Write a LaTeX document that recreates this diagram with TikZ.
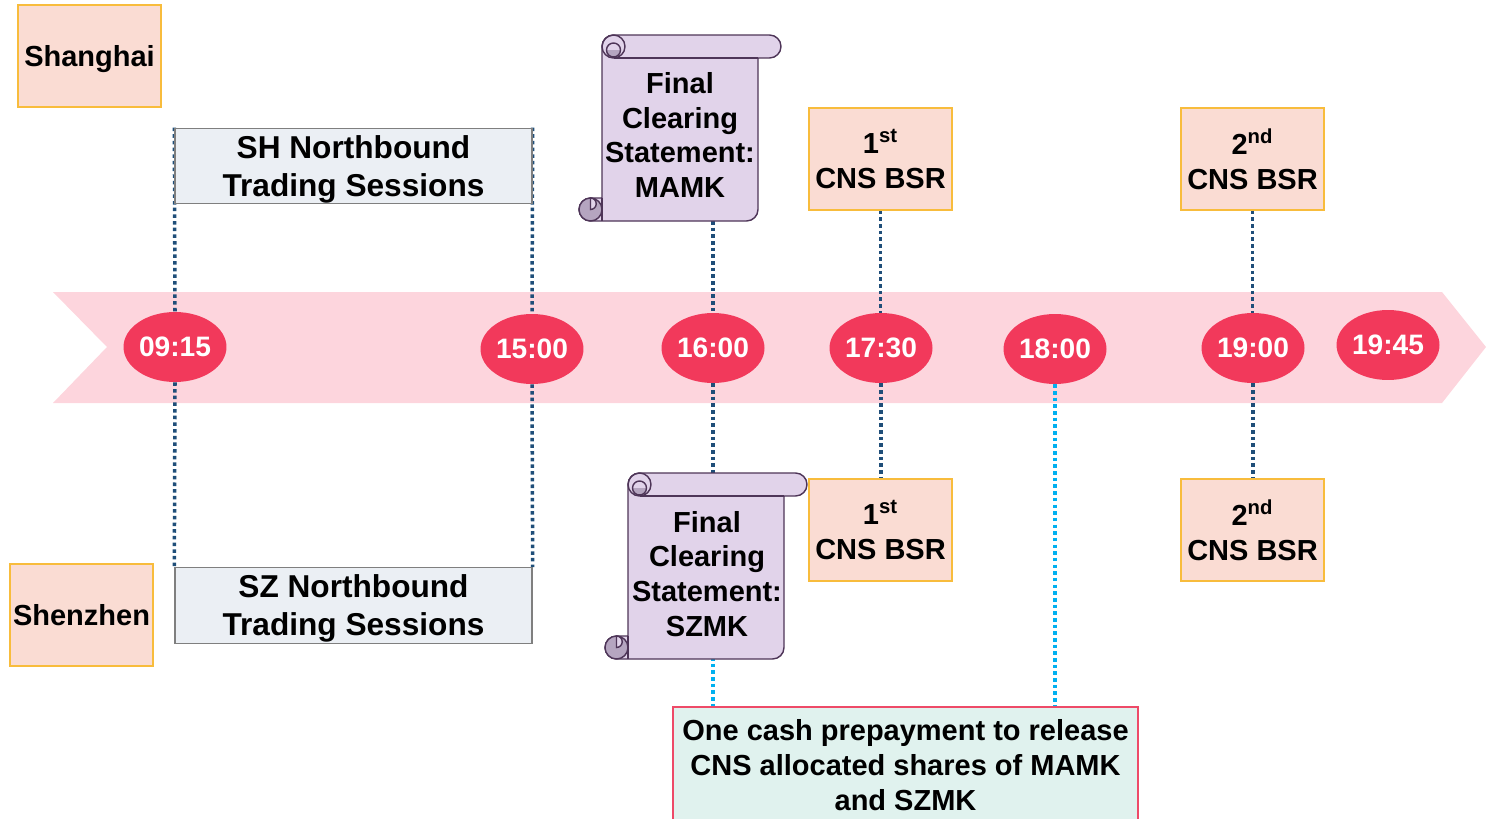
\documentclass[tikz,border=0pt]{standalone}
\usepackage{fontspec}
\setmainfont{Liberation Sans}
\usetikzlibrary{shapes.geometric}
\definecolor{chev}{HTML}{FDD5DD}
\definecolor{ell}{HTML}{F2395B}
\definecolor{peach}{HTML}{FADCD3}
\definecolor{gold}{HTML}{F8BC3C}
\definecolor{grayfill}{HTML}{EBEFF4}
\definecolor{grayline}{HTML}{7F7F7F}
\definecolor{lav}{HTML}{E1D3EA}
\definecolor{lavline}{HTML}{4E3558}
\definecolor{lavdark}{HTML}{B5A5C0}
\definecolor{mint}{HTML}{E0F2EE}
\definecolor{cashline}{HTML}{EE4A68}
\definecolor{dkblue}{HTML}{1F4E79}
\definecolor{cyanb}{HTML}{00B0F0}
\pgfdeclarelayer{bg}
\pgfsetlayers{bg,main}
\tikzset{
  timenode/.style={ellipse, fill=ell, text=white, minimum width=2.06cm, minimum height=1.4cm, inner sep=0pt, font=\fontsize{16}{19}\selectfont\bfseries},
  peachbox/.style={draw=gold, fill=peach, line width=0.8pt, minimum width=2.86cm, minimum height=2.04cm, align=center, inner sep=0pt, font=\fontsize{16.5}{20}\selectfont\bfseries},
  sessbox/.style={draw=grayline, fill=grayfill, line width=0.8pt, minimum width=7.14cm, minimum height=1.51cm, align=center, inner sep=0pt, font=\fontsize{18}{21.5}\selectfont\bfseries},
  darkdot/.style={draw=dkblue, line width=2pt, dash pattern=on 2pt off 1.8pt},
  cyandot/.style={draw=cyanb, line width=2pt, dash pattern=on 2pt off 1.8pt},
  scrolltext/.style={align=center, font=\fontsize{16.5}{19.8}\selectfont\bfseries, inner sep=0pt},
  cashbox/.style={draw=cashline, fill=mint, line width=0.8pt, minimum width=9.3cm, minimum height=2.32cm, align=center, inner sep=0pt, font=\fontsize{16.5}{19.8}\selectfont\bfseries},
  scroll/.pic={
    \path[fill=lav, draw=lavline, line width=0.8pt] (11.5,0) -- (167.5,0) arc[start angle=90,end angle=-90,radius=0.23cm] -- (156,23) -- (156,174.5) arc[start angle=0,end angle=-90,radius=0.23cm] -- (-11.5,186) arc[start angle=-90,end angle=-270,radius=0.23cm] -- (0,163) -- (0,11.5) arc[start angle=180,end angle=90,radius=0.23cm] -- cycle;
    \draw[lavline, line width=0.8pt] (11.5,23) -- (156,23);
    \draw[lavline, line width=0.8pt] (11.5,11.5) circle[radius=0.23cm];
    \fill[lavdark] (4.5,15) arc[start angle=180,end angle=360,radius=0.14cm] -- cycle;
    \draw[lavline, line width=0.8pt] (11.5,15) circle[radius=0.14cm];
    \draw[lavline, fill=lavdark, line width=0.8pt] (-11.5,174.5) circle[radius=0.23cm];
    \draw[lavline, fill=lav, line width=0.8pt] (-11.5,163) arc[start angle=90,end angle=-90,radius=0.115cm] -- cycle;
    \draw[lavline, line width=0.8pt] (0,163) -- (0,186);
    \coordinate (-top) at (78,0);
    \coordinate (-bot) at (78,186);
  },
}
\begin{document}
\begin{tikzpicture}[x=0.02cm,y=-0.02cm]
\useasboundingbox (0,0) rectangle (1486,818);
\clip (0,0) rectangle (1486,818);

% time markers
\node[timenode] (t0915) at (175,347) {09:15};
\node[timenode] (t1500) at (532,349) {15:00};
\node[timenode] (t1600) at (713,348) {16:00};
\node[timenode] (t1730) at (881,348) {17:30};
\node[timenode] (t1800) at (1055,349) {18:00};
\node[timenode] (t1900) at (1253,348) {19:00};
\node[timenode] (t1945) at (1388,345) {19:45};

% labels
\node[peachbox] (sh) at (89.5,56) {Shan\smash{g}hai};
\node[peachbox] (sz) at (81.5,615) {Shenzhen};
\node[sessbox] (shnb) at (353.5,166) {SH Northbound\\Tradin\smash{g} Sessions};
\node[sessbox] (sznb) at (353.5,605.5) {SZ Northbound\\Tradin\smash{g} Sessions};

\node[peachbox] (c1t) at (880.5,159) {1\textsuperscript{st}\\CNS BSR};
\node[peachbox] (c2t) at (1252.5,159) {2\textsuperscript{nd}\\CNS BSR};
\node[peachbox] (c1b) at (880.5,530) {1\textsuperscript{st}\\CNS BSR};
\node[peachbox] (c2b) at (1252.5,530) {2\textsuperscript{nd}\\CNS BSR};

\node[cashbox] (cash) at (905.5,765) {One cash prepayment to release\\CNS allocated shares of MAMK\\and SZMK};

\pic (sa) at (602,35) {scroll};
\node[scrolltext] (mamk) at (680,135) {Final\\Clearing\\Statement:\\MAMK};
\pic (sb) at (628,473) {scroll};
\node[scrolltext] (szmk) at (707,574) {Final\\Clearing\\Statement:\\SZMK};

\begin{pgfonlayer}{bg}
\fill[chev] (53,292) -- (1442,292) -- (1486,347) -- (1442,403) -- (53,403) -- (107,347) -- cycle;
\draw[darkdot] (shnb.north west) -- (t0915.north);
\draw[darkdot] (t0915.south) -- (sznb.north west);
\draw[darkdot] (shnb.north east) -- (t1500.north);
\draw[darkdot] (t1500.south) -- (sznb.north east);
\draw[darkdot] (t1600.north |- sa-bot) -- (t1600.north);
\draw[cyandot] (t1600.south) -- (t1600.south |- cash.north);
\draw[darkdot] (t1600.south) -- (t1600.south |- sb-top);
\draw[darkdot] (c1t.south) -- (c1t.south |- t1730.north);
\draw[darkdot] (t1730.south) -- (t1730.south |- c1b.north);
\draw[cyandot] (t1800.south) -- (t1800.south |- cash.north);
\draw[darkdot] (c2t.south) -- (c2t.south |- t1900.north);
\draw[darkdot] (t1900.south) -- (t1900.south |- c2b.north);
\end{pgfonlayer}
\end{tikzpicture}
\end{document}
